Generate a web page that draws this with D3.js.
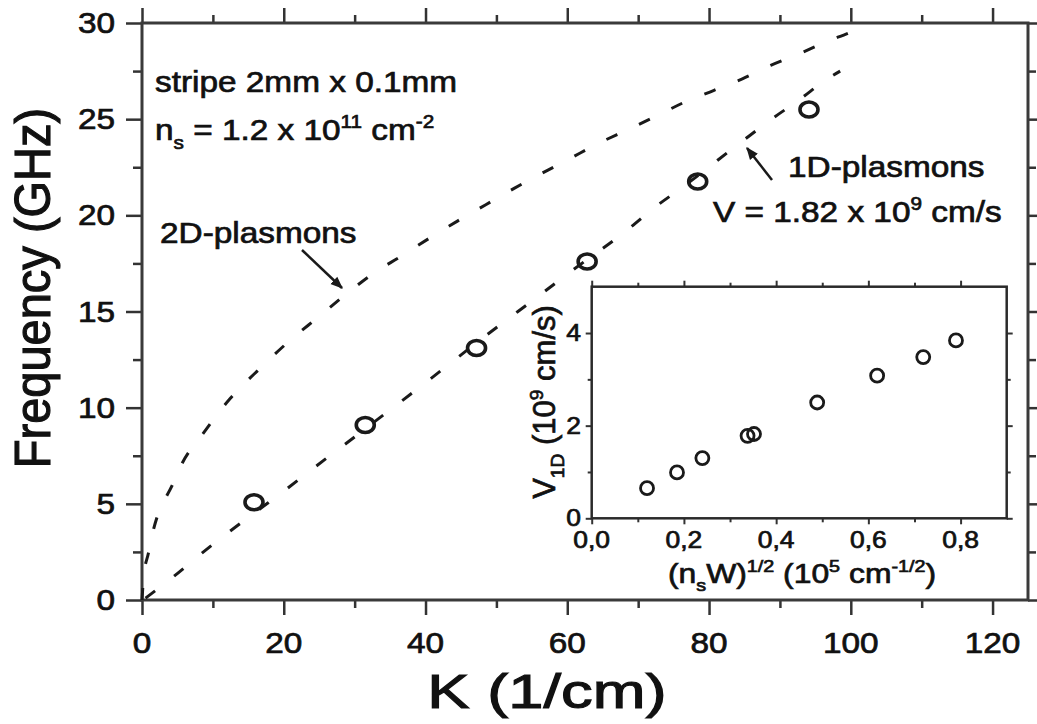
<!DOCTYPE html>
<html>
<head>
<meta charset="utf-8">
<script src="https://cdn.jsdelivr.net/npm/d3@7"></script>
<style>
  body { margin: 0; background: #fff; }
  svg { display: block; }
  text { font-family: "Liberation Sans", Arial, sans-serif; fill: #111; stroke: #111; stroke-width: 0.7px; }
</style>
</head>
<body>
<svg id="chart" width="1037" height="724"></svg>
<script>
// measured resonance positions (main panel)
const kPeaks = [15.8, 31.5, 47.2, 62.8, 78.4, 94.1];
const fPeaks = [5.08, 9.1, 13.1, 17.6, 21.76, 25.5];

// dashed dispersion curves
const k2D = [0, 0.23, 0.9, 1.55, 4.4, 5.65, 8.47, 12.47, 16.7, 20.7, 24.7, 28.7, 32.7, 36.5, 40.5, 44.5, 48.5, 52.5, 56.5, 60.5, 64.5, 68.5, 72.5, 76.4, 80.7, 84.7, 88.7, 92.7, 96.7, 100.4, 102];
const f2D = [0, 1.2, 2.43, 3.55, 6.07, 7.1, 8.58, 10.49, 12.06, 13.44, 14.66, 15.87, 17.0, 17.86, 18.8, 19.7, 20.55, 21.4, 22.2, 22.98, 23.76, 24.45, 25.15, 25.86, 26.5, 27.1, 27.8, 28.4, 29.05, 29.6, 29.9];
const k1D = [0.5, 4.4, 8.5, 12.5, 16.5, 20.5, 24.5, 28.5, 40, 48, 56.5, 60.5, 68.5, 72.5, 76.4, 84.5, 88.7, 92.7, 96.7, 98.5];
const f1D = [0.1, 1.2, 2.45, 3.6, 4.7, 5.8, 6.94, 8.06, 11.3, 13.6, 15.96, 17.08, 19.25, 20.46, 21.5, 23.8, 24.97, 26.0, 27.1, 27.5];

// inset: V_1D vs sqrt(n_s W)
const insetX = [0.12, 0.185, 0.24, 0.338, 0.352, 0.489, 0.619, 0.719, 0.79];
const insetV = [0.65, 0.99, 1.3, 1.78, 1.82, 2.5, 3.08, 3.48, 3.84];

// ticks
const xTicks = [0, 20, 40, 60, 80, 100, 120];
const xMinor = [10, 30, 50, 70, 90, 110];
const yTicks = [0, 5, 10, 15, 20, 25, 30];
const yMinor = [2.5, 7.5, 12.5, 17.5, 22.5, 27.5];
const inXTicks = [0, 0.2, 0.4, 0.6, 0.8];
const inXLabels = ['0,0', '0,2', '0,4', '0,6', '0,8'];
const inXMinor = [0.1, 0.3, 0.5, 0.7];
const inYTicks = [0, 2, 4];
const inYMinor = [1, 3];

const SX = 1.15; // the picture is a bit wider than tall
const INK = '#1a1a1a';

const svg = d3.select('#chart');
svg.append('rect').attr('width', 1037).attr('height', 724).attr('fill', '#fff');

svg.append('defs').append('marker')
  .attr('id', 'head')
  .attr('viewBox', '0 0 10 10')
  .attr('refX', 9).attr('refY', 5)
  .attr('markerWidth', 5).attr('markerHeight', 5)
  .attr('markerUnits', 'strokeWidth')
  .attr('orient', 'auto')
  .append('path').attr('d', 'M0,1 L10,5 L0,9 Z').attr('fill', INK);

// text with sub/superscripts, stretched horizontally like the picture
function richText(parent, px, py, parts, size, anchor, rotate, sx) {
  const t = parent.append('text')
    .attr('transform', `translate(${px},${py}) scale(${sx || SX},1)` + (rotate ? ` rotate(${rotate})` : ''))
    .attr('font-size', size)
    .attr('text-anchor', anchor || 'start');
  let shift = 0;
  parts.forEach(([s, kind]) => {
    const target = kind === 'sup' ? -0.4 * size : kind === 'sub' ? 0.3 * size : 0;
    t.append('tspan')
      .attr('dy', target - shift)
      .attr('font-size', kind ? size * 0.62 : size)
      .text(s);
    shift = target;
  });
  return t;
}

function styleAxis(g, w) {
  g.select('.domain').remove();
  g.selectAll('line').attr('stroke', '#333').attr('stroke-width', w);
}

// ---------- main panel ----------
const x = d3.scaleLinear().domain([0, 125]).range([142, 1028]);
const y = d3.scaleLinear().domain([0, 30]).range([600, 23]);

const main = svg.append('g');

[[d3.axisBottom, y(0), xTicks, 15], [d3.axisBottom, y(0), xMinor, 8],
 [d3.axisTop, y(30), xTicks, 15], [d3.axisTop, y(30), xMinor, 8]].forEach(([ax, pos, vals, len]) => {
  main.append('g').attr('transform', `translate(0,${pos})`)
    .call(ax(x).tickValues(vals).tickSize(len).tickFormat(''))
    .call(g => styleAxis(g, 2.5));
});
[[d3.axisLeft, x(0), yTicks, 16], [d3.axisLeft, x(0), yMinor, 9],
 [d3.axisRight, x(125), yTicks, 15], [d3.axisRight, x(125), yMinor, 8]].forEach(([ax, pos, vals, len]) => {
  main.append('g').attr('transform', `translate(${pos},0)`)
    .call(ax(y).tickValues(vals).tickSize(len).tickFormat(''))
    .call(g => styleAxis(g, 2.5));
});

main.append('rect')
  .attr('x', x(0)).attr('y', y(30))
  .attr('width', x(125) - x(0)).attr('height', y(0) - y(30))
  .attr('fill', 'none').attr('stroke', '#3a3a3a').attr('stroke-width', 3);

xTicks.forEach(v => richText(main, x(v), 653, [[String(v)]], 29, 'middle'));
yTicks.forEach(v => richText(main, 115, y(v) + 10, [[String(v)]], 29, 'end'));

richText(main, 50, 288, [['Frequency (GHz)']], 47, 'middle', -90, 1.05)
  .style('stroke-width', '1.1px');
richText(main, 547, 708, [['K (1/cm)']], 48, 'middle', null, 1.32)
  .style('stroke-width', '1.1px');

const line = d3.line().x(d => x(d[0])).y(d => y(d[1])).curve(d3.curveMonotoneX);
[[k2D, f2D], [k1D, f1D]].forEach(([ks, fs]) => {
  main.append('path')
    .attr('d', line(d3.zip(ks, fs)))
    .attr('fill', 'none')
    .attr('stroke', INK)
    .attr('stroke-width', 3)
    .attr('stroke-dasharray', '12,24');
});

main.selectAll('ellipse.peak')
  .data(d3.zip(kPeaks, fPeaks))
  .join('ellipse')
  .attr('class', 'peak')
  .attr('cx', d => x(d[0])).attr('cy', d => y(d[1]))
  .attr('rx', 9).attr('ry', 7.5)
  .attr('fill', 'none').attr('stroke', INK).attr('stroke-width', 3.6);

// annotations
richText(main, 155, 92, [['stripe 2mm x 0.1mm']], 29);
richText(main, 155, 140, [['n'], ['s', 'sub'], [' = 1.2 x 10'], ['11', 'sup'], [' cm'], ['-2', 'sup']], 29);
richText(main, 160, 243, [['2D-plasmons']], 29);
richText(main, 788, 177, [['1D-plasmons']], 29);
richText(main, 713, 222, [['V = 1.82 x 10'], ['9', 'sup'], [' cm/s']], 29);

main.append('line')
  .attr('x1', 302).attr('y1', 250).attr('x2', 342).attr('y2', 288)
  .attr('stroke', INK).attr('stroke-width', 2.5).attr('marker-end', 'url(#head)');
main.append('line')
  .attr('x1', 772).attr('y1', 180).attr('x2', 747).attr('y2', 148)
  .attr('stroke', INK).attr('stroke-width', 2.5).attr('marker-end', 'url(#head)');

// ---------- inset ----------
const ix = d3.scaleLinear().domain([0, 0.9]).range([591.7, 1006.7]);
const iy = d3.scaleLinear().domain([0, 5]).range([518.3, 286.7]);
const inset = svg.append('g');

inset.append('rect')
  .attr('x', ix(0)).attr('y', iy(5))
  .attr('width', ix(0.9) - ix(0)).attr('height', iy(0) - iy(5))
  .attr('fill', '#fff');

[[d3.axisBottom, iy(0), inXTicks, 6], [d3.axisBottom, iy(0), inXMinor, 4],
 [d3.axisTop, iy(5), inXTicks, 6], [d3.axisTop, iy(5), inXMinor, 4]].forEach(([ax, pos, vals, len]) => {
  inset.append('g').attr('transform', `translate(0,${pos})`)
    .call(ax(ix).tickValues(vals).tickSize(len).tickFormat(''))
    .call(g => styleAxis(g, 2));
});
[[d3.axisLeft, ix(0), inYTicks, 6], [d3.axisLeft, ix(0), inYMinor, 4],
 [d3.axisRight, ix(0.9), inYTicks, 6], [d3.axisRight, ix(0.9), inYMinor, 4]].forEach(([ax, pos, vals, len]) => {
  inset.append('g').attr('transform', `translate(${pos},0)`)
    .call(ax(iy).tickValues(vals).tickSize(len).tickFormat(''))
    .call(g => styleAxis(g, 2));
});

inset.append('rect')
  .attr('x', ix(0)).attr('y', iy(5))
  .attr('width', ix(0.9) - ix(0)).attr('height', iy(0) - iy(5))
  .attr('fill', 'none').attr('stroke', '#2a2a2a').attr('stroke-width', 2.5);

inXTicks.forEach((v, i) => richText(inset, ix(v), 548, [[inXLabels[i]]], 23, 'middle'));
inYTicks.forEach(v => richText(inset, 581, iy(v) + 8, [[String(v)]], 23, 'end'));

richText(inset, 802, 583, [['(n'], ['s', 'sub'], ['W)'], ['1/2', 'sup'], [' (10'], ['5', 'sup'], [' cm'], ['-1/2', 'sup'], [')']], 27, 'middle', null, 1.18);
richText(inset, 555, 402, [['V'], ['1D', 'sub'], [' (10'], ['9', 'sup'], [' cm/s)']], 31, 'middle', -90, 1.0);

inset.selectAll('circle.pt')
  .data(d3.zip(insetX, insetV))
  .join('circle')
  .attr('class', 'pt')
  .attr('cx', d => ix(d[0])).attr('cy', d => iy(d[1]))
  .attr('r', 6.5)
  .attr('fill', 'none').attr('stroke', INK).attr('stroke-width', 2.8);
</script>
</body>
</html>
